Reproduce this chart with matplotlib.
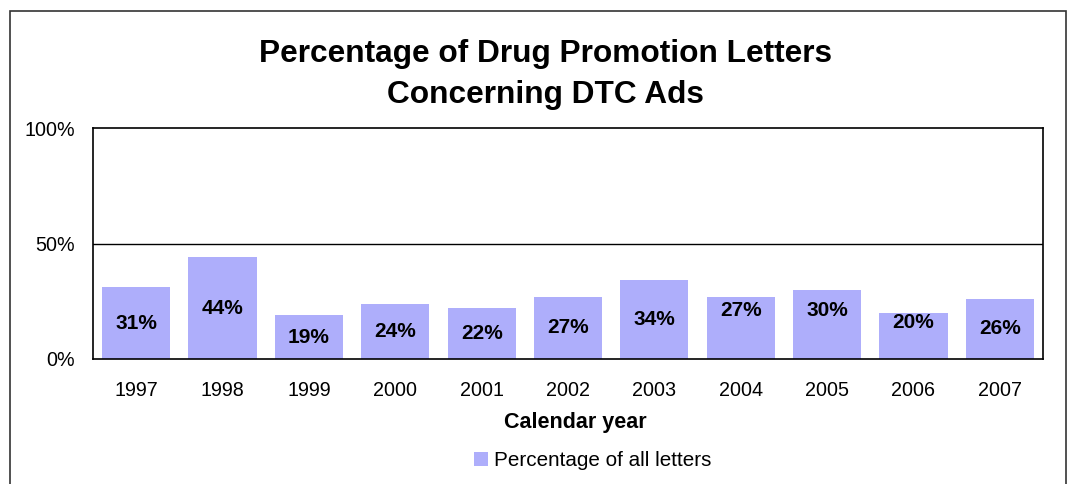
import numpy as np
import matplotlib.pyplot as plt
from matplotlib.patches import Rectangle

plt.rcParams['font.family'] = ['Liberation Sans', 'DejaVu Sans']

years = ['1997', '1998', '1999', '2000', '2001', '2002', '2003', '2004', '2005', '2006', '2007']
share = [31, 44, 19, 24, 22, 27, 34, 27, 30, 20, 26]
# height (in %) where each value label sits
label_at = [15.5, 22, 9.5, 12, 11, 13.5, 17, 20.8, 20.8, 16, 13]

bar_color = '#AEAEFB'

fig = plt.figure(figsize=(10.68, 4.84), dpi=100)

# outer chart frame
fig.patches.append(Rectangle((10 / 1068, -0.05), 1056 / 1068, 1.05 - 11 / 484,
                             transform=fig.transFigure, fill=False,
                             edgecolor='#333333', linewidth=1.2))

ax = fig.add_axes([93 / 1068, 125 / 484, 950 / 1068, 231 / 484])
x = np.arange(len(years))
bars = ax.bar(x, share, width=0.79, color=bar_color, zorder=2,
              label='Percentage of all letters')

for xi, v, ly in zip(x, share, label_at):
    ax.text(xi, ly, f'{v}%', ha='center', va='center', fontsize=15,
            fontweight='bold', zorder=3)

ax.set_xlim(-0.5, len(years) - 0.5)
ax.set_ylim(0, 100)
ax.set_yticks([0, 50, 100])
ax.set_yticklabels(['0%', '50%', '100%'])
ax.set_xticks(x)
ax.set_xticklabels(years)
ax.tick_params(length=0, labelsize=14.2)
ax.tick_params(axis='x', pad=16)
ax.tick_params(axis='y', pad=13)
ax.axhline(50, color='black', linewidth=1, zorder=1)
for s in ax.spines.values():
    s.set_linewidth(1.2)

ax.set_xlabel('Calendar year', fontsize=15.5, fontweight='bold', va='center')
ax.xaxis.set_label_coords(0.508, -0.277)

fig.text(0.511, 0.846, 'Percentage of Drug Promotion Letters\nConcerning DTC Ads',
         ha='center', va='center', fontsize=22.8, fontweight='bold', linespacing=1.5)

fig.legend(handles=[bars], labels=['Percentage of all letters'], loc='center',
           bbox_to_anchor=(593 / 1068, 1 - 461 / 484), frameon=False,
           fontsize=14.9, handlelength=0.65, handleheight=0.65, handletextpad=0.3)

fig.savefig('out.png', dpi=100)
